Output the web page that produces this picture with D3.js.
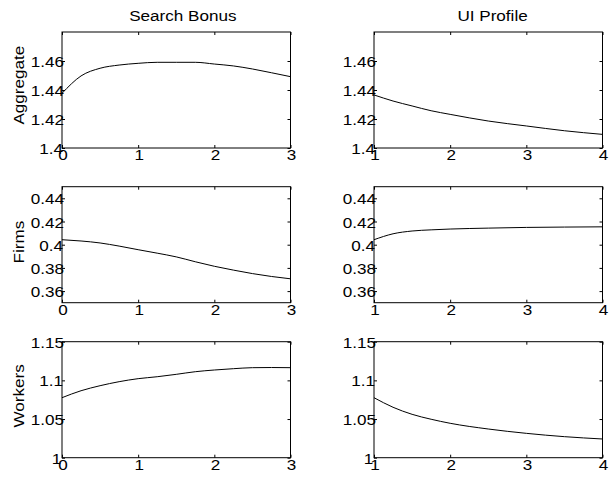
<!DOCTYPE html>
<html>
<head>
<meta charset="utf-8">
<script src="https://cdn.jsdelivr.net/npm/d3@7"></script>
<style>
  html, body { margin: 0; padding: 0; background: #fff; }
  svg { display: block; }
  text { font-family: "Liberation Sans", Arial, Helvetica, sans-serif; font-size: 15px; fill: #000; }
</style>
</head>
<body>
<svg id="fig" width="610" height="484"></svg>
<script>
// Policy experiments: search bonus size (left) and UI profile (right)
const colTitles = ["Search Bonus", "UI Profile"];
const rowLabels = ["Aggregate", "Firms", "Workers"];

const bonusX   = [0, 0.25, 0.5, 0.75, 1, 1.25, 1.5, 1.75, 2, 2.25, 2.5, 2.75, 3];
const profileX = [1, 1.25, 1.5, 1.75, 2, 2.5, 3, 3.5, 4];

const aggregateBonus   = [1.4377, 1.4497, 1.4550, 1.4572, 1.4584, 1.4591, 1.4591, 1.4591, 1.4579, 1.4566, 1.4545, 1.4519, 1.4492];
const aggregateProfile = [1.4366, 1.4324, 1.4290, 1.4257, 1.4232, 1.4186, 1.4152, 1.4119, 1.4094];

const firmsBonus   = [0.4043, 0.4032, 0.4015, 0.3988, 0.3957, 0.3927, 0.3895, 0.3853, 0.3814, 0.3781, 0.3751, 0.3726, 0.3706];
const firmsProfile = [0.4043, 0.4094, 0.4118, 0.4128, 0.4135, 0.4143, 0.4149, 0.4152, 0.4154];

const workersBonus   = [1.0776, 1.0866, 1.0931, 1.0983, 1.1022, 1.1047, 1.1078, 1.1112, 1.1134, 1.1151, 1.1164, 1.1166, 1.1164];
const workersProfile = [1.0776, 1.0652, 1.0561, 1.0497, 1.0445, 1.0371, 1.0315, 1.0272, 1.0242];

const xDomains = [[0, 3], [1, 4]];
const xTicks   = [[0, 1, 2, 3], [1, 2, 3, 4]];
const yDomains = [[1.4, 1.48], [0.35, 0.45], [1, 1.15]];
const yTicks   = [[1.4, 1.42, 1.44, 1.46], [0.36, 0.38, 0.4, 0.42, 0.44], [1, 1.05, 1.1, 1.15]];

const series = [
  [aggregateBonus, aggregateProfile],
  [firmsBonus, firmsProfile],
  [workersBonus, workersProfile]
];
const xValues = [bonusX, profileX];

// subplot frames
const colLeft  = [62, 374];
const axW = 228.5;
const rowTop = [32, 186.7, 341.7];
const axH = 116;
const stretch = 1.14;   // wide glyph rendering of the figure's text
const tickLen = 3;

const svg = d3.select("#fig");

// places a text with its natural-width anchor, then widens it to the right
function placeText(sel, x, y, anchor, rotate) {
  sel.each(function () {
    const t = d3.select(this);
    const w = this.getComputedTextLength();
    const off = anchor === "middle" ? -w / 2 : anchor === "end" ? -w : 0;
    t.attr("text-anchor", "start").attr("x", 0).attr("y", 0).attr("dy", null);
    if (rotate) {
      t.attr("transform", `translate(${x},${y}) rotate(-90) translate(${off},0) scale(${stretch},1)`);
    } else {
      t.attr("transform", `translate(${x + off},${y}) scale(${stretch},1)`);
    }
  });
}

for (let r = 0; r < 3; r++) {
  for (let c = 0; c < 2; c++) {
    const x0 = colLeft[c], y0 = rowTop[r];
    const xs = d3.scaleLinear().domain(xDomains[c]).range([x0, x0 + axW]);
    const ys = d3.scaleLinear().domain(yDomains[r]).range([y0 + axH, y0]);
    const g = svg.append("g");

    // inward ticks on all four sides
    const fmt = d => String(+d.toFixed(4));
    const bottom = g.append("g").attr("transform", `translate(0,${y0 + axH})`)
      .call(d3.axisBottom(xs).tickValues(xTicks[c]).tickSizeInner(-tickLen).tickSizeOuter(0).tickFormat(fmt));
    const top = g.append("g").attr("transform", `translate(0,${y0})`)
      .call(d3.axisTop(xs).tickValues(xTicks[c]).tickSizeInner(-tickLen).tickSizeOuter(0).tickFormat(""));
    const left = g.append("g").attr("transform", `translate(${x0},0)`)
      .call(d3.axisLeft(ys).tickValues(yTicks[r]).tickSizeInner(-tickLen).tickSizeOuter(0).tickFormat(fmt));
    const right = g.append("g").attr("transform", `translate(${x0 + axW},0)`)
      .call(d3.axisRight(ys).tickValues(yTicks[r]).tickSizeInner(-tickLen).tickSizeOuter(0).tickFormat(""));

    [bottom, top, left, right].forEach(a => {
      a.select(".domain").remove();
      a.attr("font-family", null).attr("font-size", null);
      a.selectAll(".tick line").attr("stroke", "#000").attr("stroke-width", 1);
    });

    bottom.selectAll(".tick text").each(function () {
      placeText(d3.select(this), 0, 12, "middle", false);
    });
    left.selectAll(".tick text").each(function () {
      placeText(d3.select(this), -2, 5.5, "end", false);
    });

    // box
    g.append("rect")
      .attr("x", x0).attr("y", y0).attr("width", axW).attr("height", axH)
      .attr("fill", "none").attr("stroke", "#000").attr("stroke-width", 1);

    // curve
    const pts = xValues[c].map((x, i) => [x, series[r][c][i]]);
    g.append("path")
      .datum(pts)
      .attr("fill", "none")
      .attr("stroke", "#000")
      .attr("stroke-width", 1)
      .attr("d", d3.line().x(d => xs(d[0])).y(d => ys(d[1])).curve(d3.curveMonotoneX));

    if (r === 0) {
      g.append("text").text(colTitles[c])
        .call(s => placeText(s, x0 + axW / 2, 20.5, "middle", false));
    }
    if (c === 0) {
      g.append("text").text(rowLabels[r])
        .call(s => placeText(s, 23.5, y0 + axH / 2, "middle", true));
    }
  }
}
</script>
</body>
</html>
